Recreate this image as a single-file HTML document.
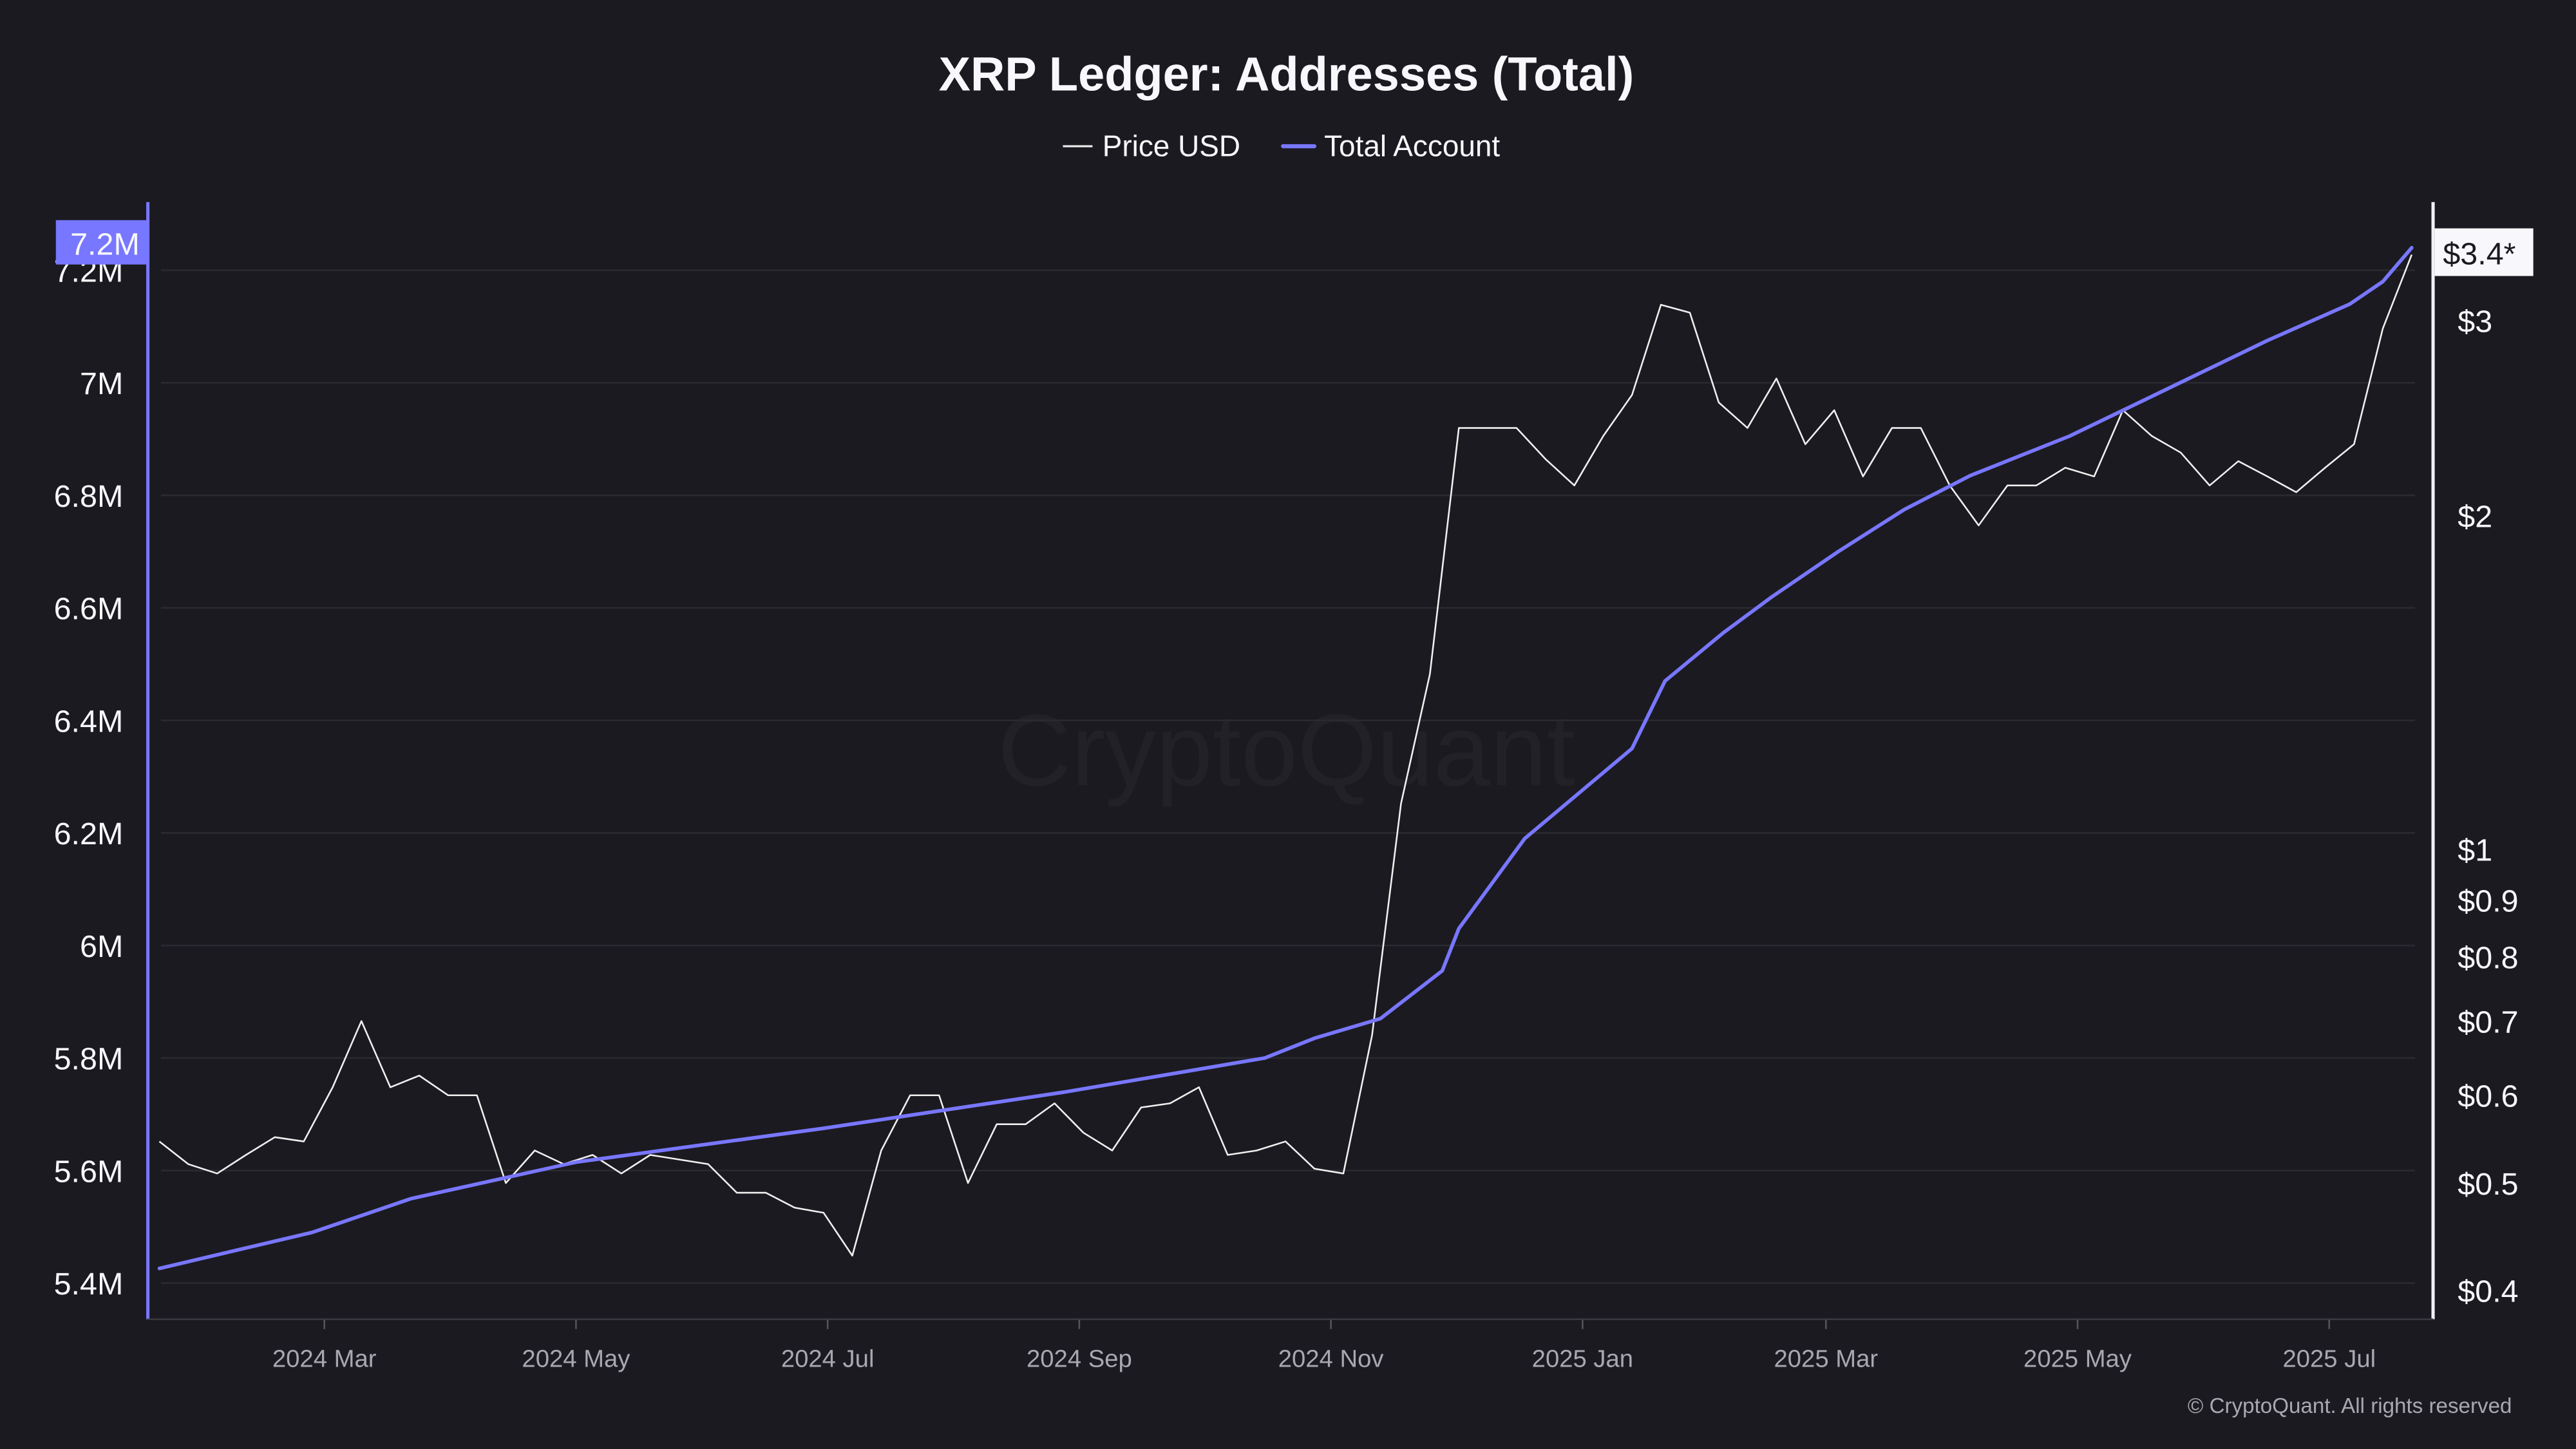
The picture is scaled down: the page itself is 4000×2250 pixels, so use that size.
<!DOCTYPE html>
<html><head><meta charset="utf-8">
<style>
html,body{margin:0;padding:0;background:#1b1a20;}
svg{display:block;font-family:"Liberation Sans",sans-serif;}
</style></head>
<body>
<svg id="chart" width="4000" height="2250" viewBox="0 0 1568 882" xmlns="http://www.w3.org/2000/svg">
<rect x="0" y="0" width="1568" height="882" fill="#1b1a20"/>
<text x="783" y="55" text-anchor="middle" font-size="29" font-weight="bold" fill="#f8f8fc">XRP Ledger: Addresses (Total)</text>
<g>
<g>
<line x1="647" y1="89" x2="665" y2="89" stroke="#f0f0f0" stroke-width="1.2"/>
<text x="671" y="95" font-size="18" fill="#f8f8fc">Price USD</text></g>
<g>
<line x1="781" y1="89" x2="800" y2="89" stroke="#7877ff" stroke-width="2.5" stroke-linecap="round"/>
<text x="806" y="95" font-size="18" fill="#f8f8fc">Total Account</text></g>
</g>
<text x="783" y="478" text-anchor="middle" font-size="62" fill="#222128">CryptoQuant</text>
<g id="grid"></g>
<g id="yleft"></g>
<g id="yright"></g>
<g id="xaxis"></g>
<g id="series"></g>
<g id="labels"></g>
<text x="1529" y="860" text-anchor="end" font-size="13" fill="#a8a8b0">© CryptoQuant. All rights reserved</text>
</svg>
<script>
const priceValues=[0.545,0.52,0.51,0.53,0.55,0.545,0.61,0.70,0.61,0.625,0.60,0.60,0.50,0.535,0.52,0.53,0.51,0.53,0.525,0.52,0.49,0.49,0.475,0.47,0.43,0.535,0.60,0.60,0.50,0.565,0.565,0.59,0.555,0.535,0.585,0.59,0.61,0.53,0.535,0.545,0.515,0.51,0.68,1.10,1.44,2.40,2.40,2.40,2.25,2.13,2.36,2.57,3.10,3.05,2.53,2.40,2.66,2.32,2.49,2.17,2.40,2.40,2.13,1.96,2.13,2.13,2.21,2.17,2.49,2.36,2.28,2.13,2.24,2.17,2.10,2.21,2.32,2.95,3.44];
const priceDays=[0,7,14,21,28,35,42,49,56,63,70,77,84,91,98,105,112,119,126,133,140,147,154,161,168,175,182,189,196,203,210,217,224,231,238,245,252,259,266,273,280,287,294,301,308,315,322,329,336,343,350,357,364,371,378,385,392,399,406,413,420,427,434,441,448,455,462,469,476,483,490,497,504,511,518,525,532,539,546];
const accountValues=[5.426,5.49,5.55,5.615,5.675,5.74,5.80,5.835,5.87,5.955,6.03,6.19,6.27,6.35,6.47,6.555,6.62,6.70,6.775,6.835,6.905,6.99,7.075,7.14,7.18,7.24];
const accountDays=[0,37,61,101,161,220,268,280,296,311,315,331,344,357,365,379,391,407,423,439,463,487,511,531,539,546];
const leftTicks=[5.4,5.6,5.8,6.0,6.2,6.4,6.6,6.8,7.0,7.2];
const leftTickLabels=["5.4M","5.6M","5.8M","6M","6.2M","6.4M","6.6M","6.8M","7M","7.2M"];
const rightTicks=[0.4,0.5,0.6,0.7,0.8,0.9,1,2,3];
const rightTickLabels=["$0.4","$0.5","$0.6","$0.7","$0.8","$0.9","$1","$2","$3"];
const xTickDays=[40,101,162,223,284,345,404,465,526];
const xTickLabels=["2024 Mar","2024 May","2024 Jul","2024 Sep","2024 Nov","2025 Jan","2025 Mar","2025 May","2025 Jul"];

const NS="http://www.w3.org/2000/svg";
function X(d){return 97+d*2.511;}
function YL(v){return 233+(7.0-v)/0.2*68.5;}
function YR(p){return 517-293*Math.log(p);}
function mk(tag,attrs,parent){const e=document.createElementNS(NS,tag);for(const k in attrs)e.setAttribute(k,attrs[k]);parent.appendChild(e);return e;}

const grid=document.getElementById('grid');
const yl=document.getElementById('yleft');
const yr=document.getElementById('yright');
const xa=document.getElementById('xaxis');
const ser=document.getElementById('series');
const lab=document.getElementById('labels');

leftTicks.forEach((v,i)=>{
 const g=mk('line',{x1:98,x2:1470,y1:YL(v),y2:YL(v),stroke:'#2a2a31','stroke-width':1},grid);
 
 
 const t=mk('text',{x:75,y:YL(v)+7,'text-anchor':'end','font-size':19,fill:'#f8f8fc'},yl);
 t.textContent=leftTickLabels[i];
 
 
});
const la=mk('line',{x1:90,x2:90,y1:123,y2:803,stroke:'#7877ff','stroke-width':2},yl);



rightTicks.forEach((p,i)=>{
 const t=mk('text',{x:1496,y:YR(p)+7,'font-size':19,fill:'#f8f8fc'},yr);
 t.textContent=rightTickLabels[i];
 
 
});
const ra=mk('line',{x1:1481,x2:1481,y1:123,y2:803,stroke:'#f0f0f5','stroke-width':2},yr);



xTickDays.forEach((d,i)=>{
 const tk=mk('line',{x1:X(d),x2:X(d),y1:803,y2:809,stroke:'#55555c','stroke-width':1},xa);
 
 
 const t=mk('text',{x:X(d),y:832,'text-anchor':'middle','font-size':15,fill:'#a8a8b0'},xa);
 t.textContent=xTickLabels[i];
 
 
});
const xl=mk('line',{x1:90,x2:1481,y1:803,y2:803,stroke:'#3a3a42','stroke-width':1},xa);



const pp=mk('polyline',{points:priceValues.map((v,i)=>X(priceDays[i]).toFixed(1)+','+YR(v).toFixed(1)).join(' '),fill:'none',stroke:'#f0f0f0','stroke-width':1,'stroke-linejoin':'round'},ser);


const ap=mk('polyline',{points:accountValues.map((v,i)=>X(accountDays[i]).toFixed(1)+','+YL(v).toFixed(1)).join(' '),fill:'none',stroke:'#7877ff','stroke-width':2.2,'stroke-linejoin':'round','stroke-linecap':'round'},ser);



const lb=mk('rect',{x:34,y:134,width:56,height:27,fill:'#7877ff'},lab);


const lt=mk('text',{x:85,y:155,'text-anchor':'end','font-size':19,fill:'#f8f8fc'},lab);
lt.textContent='7.2M';


const rb=mk('rect',{x:1482,y:139,width:60,height:29,fill:'#f8f8fc'},lab);


const rt=mk('text',{x:1487,y:161,'font-size':19,fill:'#1b1a20'},lab);
rt.textContent='$3.4*';


</script>
</body></html>
